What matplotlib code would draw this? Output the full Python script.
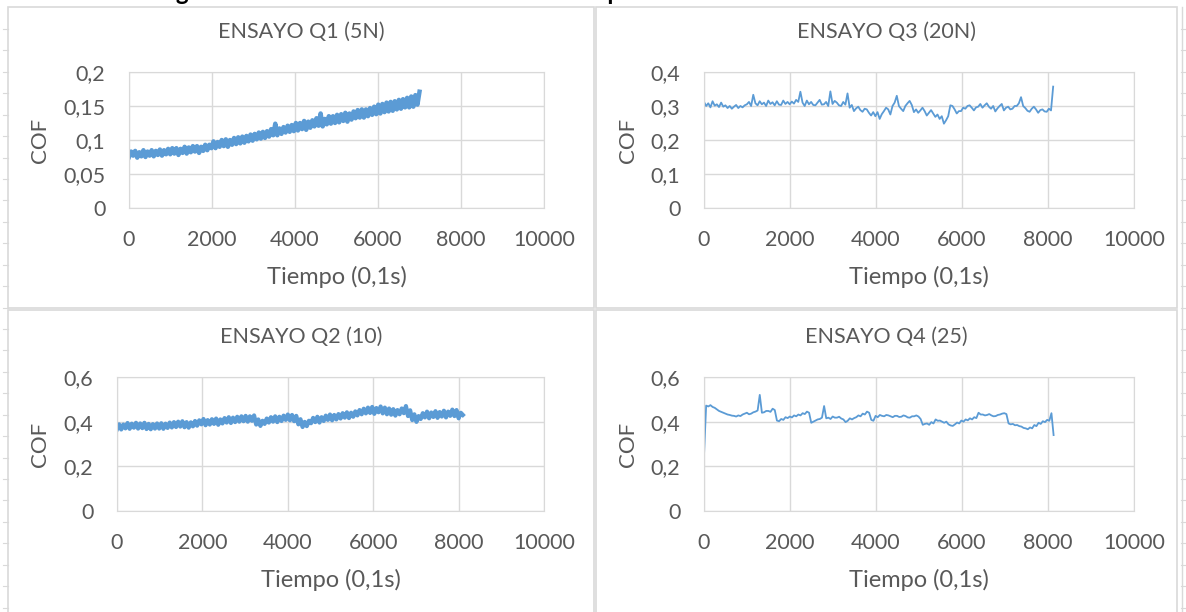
import matplotlib

matplotlib.use('Agg')
import matplotlib.pyplot as plt
import matplotlib.ticker as ticker
from matplotlib.patches import Rectangle
from matplotlib.lines import Line2D
import numpy as np

plt.rcParams['font.family'] = ['Lato', 'DejaVu Sans']

W, H = 1186, 612
AZUL = '#5B9BD5'
GRIS_TXT = '#595959'
GRIS_LIN = '#D9D9D9'

# Ensayo Q1 (5N): lecturas cada 50 (0,1s), borde inferior / superior de la banda
q1_cof = [0.075, 0.083, 0.077, 0.084, 0.074, 0.082, 0.076, 0.085, 0.075, 0.083,
          0.077, 0.085, 0.076, 0.084, 0.078, 0.086, 0.077, 0.085, 0.079, 0.087,
          0.079, 0.088, 0.080, 0.088, 0.078, 0.087, 0.081, 0.090, 0.080, 0.089,
          0.082, 0.091, 0.083, 0.091, 0.081, 0.090, 0.084, 0.093, 0.085, 0.093,
          0.088, 0.098, 0.088, 0.097, 0.090, 0.100, 0.091, 0.101, 0.090, 0.100,
          0.093, 0.103, 0.094, 0.104, 0.095, 0.105, 0.096, 0.106, 0.098, 0.108,
          0.099, 0.109, 0.101, 0.111, 0.102, 0.112, 0.103, 0.113, 0.105, 0.116,
          0.107, 0.124, 0.107, 0.117, 0.109, 0.119, 0.111, 0.121, 0.112, 0.122,
          0.113, 0.125, 0.114, 0.125, 0.116, 0.128, 0.115, 0.127, 0.118, 0.129,
          0.120, 0.132, 0.121, 0.139, 0.120, 0.131, 0.123, 0.135, 0.124, 0.135,
          0.125, 0.137, 0.126, 0.138, 0.128, 0.140, 0.127, 0.139, 0.130, 0.142,
          0.132, 0.144, 0.133, 0.145, 0.133, 0.145, 0.135, 0.147, 0.137, 0.149,
          0.138, 0.152, 0.139, 0.153, 0.141, 0.155, 0.142, 0.156, 0.143, 0.157,
          0.145, 0.159, 0.146, 0.160, 0.148, 0.162, 0.148, 0.164, 0.149, 0.166,
          0.152, 0.171]
q1_fin = 7000

# Ensayo Q3 (20N)
q3_cof = [0.312, 0.300, 0.308, 0.296, 0.314, 0.301, 0.305, 0.297, 0.310, 0.298,
          0.302, 0.294, 0.300, 0.292, 0.298, 0.303, 0.294, 0.300, 0.296, 0.302,
          0.305, 0.312, 0.300, 0.333, 0.308, 0.302, 0.314, 0.305, 0.310, 0.300,
          0.316, 0.306, 0.311, 0.302, 0.314, 0.304, 0.303, 0.316, 0.306, 0.312,
          0.305, 0.313, 0.307, 0.318, 0.312, 0.342, 0.310, 0.300, 0.316, 0.305,
          0.312, 0.303, 0.302, 0.310, 0.318, 0.304, 0.305, 0.312, 0.300, 0.343,
          0.306, 0.315, 0.310, 0.302, 0.300, 0.312, 0.304, 0.337, 0.295, 0.303,
          0.285, 0.293, 0.298, 0.288, 0.283, 0.292, 0.290, 0.280, 0.272, 0.282,
          0.270, 0.282, 0.262, 0.276, 0.285, 0.295, 0.290, 0.275, 0.300, 0.310,
          0.330, 0.300, 0.292, 0.285, 0.300, 0.308, 0.315, 0.303, 0.282, 0.290,
          0.280, 0.287, 0.295, 0.285, 0.272, 0.280, 0.288, 0.278, 0.268, 0.275,
          0.262, 0.270, 0.248, 0.258, 0.270, 0.302, 0.300, 0.290, 0.278, 0.285,
          0.285, 0.295, 0.292, 0.300, 0.302, 0.295, 0.287, 0.296, 0.298, 0.306,
          0.295, 0.302, 0.308, 0.298, 0.292, 0.300, 0.284, 0.293, 0.300, 0.306,
          0.287, 0.295, 0.298, 0.290, 0.292, 0.300, 0.300, 0.308, 0.326, 0.300,
          0.294, 0.286, 0.283, 0.292, 0.298, 0.290, 0.280, 0.288, 0.290, 0.284,
          0.283, 0.292, 0.287, 0.357]
q3_fin = 8120

# Ensayo Q2 (10)
q2_cof = [0.366, 0.388, 0.365, 0.387, 0.370, 0.394, 0.368, 0.391, 0.373, 0.395,
          0.369, 0.392, 0.371, 0.395, 0.367, 0.390, 0.366, 0.389, 0.369, 0.392,
          0.369, 0.393, 0.368, 0.391, 0.372, 0.396, 0.374, 0.398, 0.376, 0.400,
          0.378, 0.402, 0.375, 0.398, 0.373, 0.397, 0.379, 0.403, 0.382, 0.406,
          0.388, 0.412, 0.384, 0.407, 0.387, 0.411, 0.390, 0.414, 0.386, 0.410,
          0.392, 0.416, 0.396, 0.420, 0.394, 0.418, 0.398, 0.422, 0.400, 0.424,
          0.402, 0.426, 0.400, 0.424, 0.404, 0.428, 0.387, 0.410, 0.381, 0.404,
          0.390, 0.414, 0.396, 0.420, 0.400, 0.424, 0.398, 0.422, 0.403, 0.427,
          0.408, 0.432, 0.406, 0.430, 0.402, 0.426, 0.388, 0.411, 0.376, 0.399,
          0.380, 0.404, 0.393, 0.417, 0.398, 0.422, 0.396, 0.420, 0.403, 0.427,
          0.408, 0.432, 0.406, 0.430, 0.410, 0.434, 0.414, 0.438, 0.418, 0.442,
          0.416, 0.440, 0.422, 0.446, 0.428, 0.452, 0.433, 0.458, 0.437, 0.463,
          0.439, 0.466, 0.435, 0.461, 0.442, 0.468, 0.437, 0.463, 0.433, 0.459,
          0.431, 0.456, 0.427, 0.452, 0.433, 0.459, 0.438, 0.470, 0.425, 0.451,
          0.407, 0.433, 0.399, 0.425, 0.412, 0.438, 0.419, 0.445, 0.415, 0.441,
          0.421, 0.447, 0.417, 0.443, 0.423, 0.449, 0.419, 0.445, 0.426, 0.454,
          0.425, 0.452, 0.415, 0.440, 0.430]
q2_fin = 8100

# Ensayo Q4 (25)
q4_cof = [0.250, 0.472, 0.468, 0.474, 0.466, 0.462, 0.455, 0.448, 0.444, 0.440,
          0.436, 0.432, 0.430, 0.427, 0.426, 0.423, 0.428, 0.425, 0.432, 0.436,
          0.440, 0.433, 0.436, 0.442, 0.445, 0.450, 0.520, 0.440, 0.442, 0.448,
          0.448, 0.444, 0.458, 0.452, 0.405, 0.402, 0.412, 0.408, 0.420, 0.416,
          0.423, 0.419, 0.428, 0.424, 0.432, 0.428, 0.438, 0.434, 0.445, 0.440,
          0.395, 0.400, 0.405, 0.410, 0.412, 0.418, 0.470, 0.415, 0.418, 0.412,
          0.423, 0.418, 0.418, 0.422, 0.414, 0.410, 0.398, 0.404, 0.415, 0.410,
          0.416, 0.420, 0.428, 0.424, 0.436, 0.432, 0.445, 0.440, 0.408, 0.404,
          0.426, 0.420, 0.430, 0.426, 0.424, 0.430, 0.428, 0.424, 0.420, 0.426,
          0.426, 0.421, 0.422, 0.428, 0.425, 0.419, 0.418, 0.424, 0.424, 0.428,
          0.423, 0.412, 0.386, 0.390, 0.392, 0.386, 0.398, 0.392, 0.410, 0.404,
          0.405, 0.400, 0.395, 0.400, 0.388, 0.383, 0.381, 0.388, 0.396, 0.392,
          0.405, 0.400, 0.410, 0.406, 0.415, 0.410, 0.420, 0.416, 0.440, 0.432,
          0.432, 0.428, 0.430, 0.434, 0.428, 0.424, 0.425, 0.430, 0.432, 0.436,
          0.438, 0.434, 0.392, 0.388, 0.390, 0.384, 0.385, 0.380, 0.378, 0.372,
          0.370, 0.366, 0.374, 0.370, 0.385, 0.380, 0.395, 0.390, 0.402, 0.398,
          0.408, 0.404, 0.438, 0.340]
q4_fin = 8130

titulos = ['ENSAYO Q1 (5N)', 'ENSAYO Q3 (20N)', 'ENSAYO Q2 (10)', 'ENSAYO Q4 (25)']
series = [q1_cof, q3_cof, q2_cof, q4_cof]
finales = [q1_fin, q3_fin, q2_fin, q4_fin]
y_max = [0.2, 0.4, 0.6, 0.6]
y_paso = [0.05, 0.1, 0.2, 0.2]
grosor = [3.2, 1.3, 3.0, 1.3]

# posiciones en pixeles: caja del grafico y area de trazado (izq, arriba, der, abajo)
cajas = [(8, 7, 594, 308), (596, 7, 1177, 308), (8, 310, 594, 640), (596, 310, 1177, 640)]
areas = [(129, 72, 544, 208), (704, 72, 1134, 208), (117, 377, 544, 511), (704, 377, 1134, 511)]


def fx(x):
    return x / W


def fy(y):
    return 1 - y / H


def coma(v, pos):
    return ('%g' % v).replace('.', ',')


fig = plt.figure(figsize=(W / 100, H / 100), dpi=100)

# pie de figura, cortado por el borde superior como en la captura
fig.text(fx(156), 1.0, 'Figura 5. Coeficiente de fricción en el tiempo', fontsize=17.4,
         fontweight='bold', color='black', va='baseline', ha='left')

# marcas de las filas de la hoja a los lados
for k in range(28):
    yk = fy(29 + 21.43 * k)
    fig.add_artist(Line2D([fx(3), fx(8)], [yk, yk], color=GRIS_LIN, lw=0.8))
    fig.add_artist(Line2D([fx(1181), fx(1186)], [yk, yk], color=GRIS_LIN, lw=0.8))
fig.add_artist(Line2D([fx(1182), fx(1182)], [0, fy(7)], color=GRIS_LIN, lw=1))

for i in range(4):
    cx0, cy0, cx1, cy1 = cajas[i]
    fig.add_artist(Rectangle((fx(cx0), fy(cy1)), fx(cx1 - cx0), (cy1 - cy0) / H,
                             transform=fig.transFigure, fill=False, edgecolor=GRIS_LIN, lw=1.2))

    x0, y0, x1, y1 = areas[i]
    ax = fig.add_axes([fx(x0), fy(y1), fx(x1 - x0), (y1 - y0) / H])
    t = np.linspace(0, finales[i], len(series[i]))
    ax.plot(t, series[i], color=AZUL, lw=grosor[i])

    ax.set_xlim(0, 10000)
    ax.set_ylim(0, y_max[i])
    ax.set_xticks(np.arange(0, 10001, 2000))
    ax.set_yticks(np.arange(0, y_max[i] + 1e-9, y_paso[i]))
    ax.yaxis.set_major_formatter(ticker.FuncFormatter(coma))
    ax.grid(True, color=GRIS_LIN, lw=1)
    ax.set_axisbelow(True)
    for s in ax.spines.values():
        s.set_color(GRIS_LIN)
    ax.tick_params(length=0, labelsize=15.5, labelcolor=GRIS_TXT)
    ax.tick_params(axis='x', pad=16)
    ax.tick_params(axis='y', pad=17)

    cx = (cx0 + cx1) / 2
    fig.text(fx(cx), fy(y0 - 40), titulos[i], fontsize=15.5, color=GRIS_TXT, ha='center', va='center')
    fig.text(fx((x0 + x1) / 2), fy(y1 + 69), 'Tiempo (0,1s)', fontsize=17, color=GRIS_TXT,
             ha='center', va='center')
    fig.text(fx(cx0 + 32), fy((y0 + y1) / 2), 'COF', fontsize=16, color=GRIS_TXT,
             rotation=90, ha='center', va='center')

fig.savefig('out.png', dpi=100)
